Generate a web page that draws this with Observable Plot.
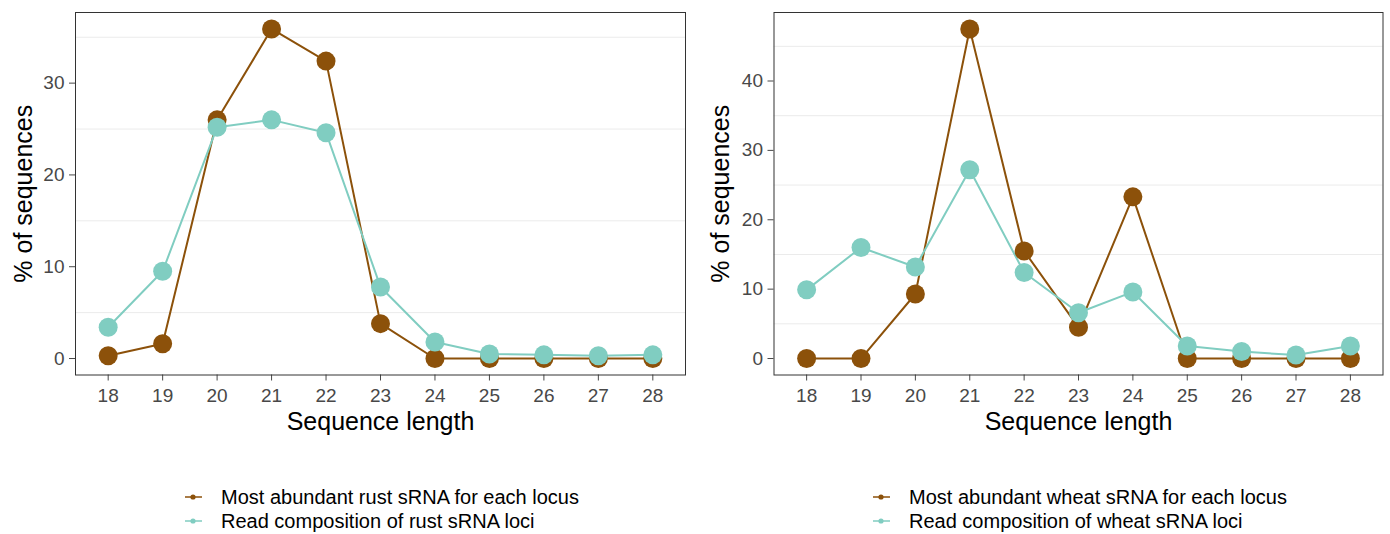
<!DOCTYPE html>
<html>
<head>
<meta charset="utf-8">
<script src="https://cdn.jsdelivr.net/npm/d3@7"></script>
<script src="https://cdn.jsdelivr.net/npm/@observablehq/plot@0.6"></script>
<style>
  html, body { margin: 0; padding: 0; background: #fff; }
  #wrap { position: relative; width: 1390px; height: 534px; font-family: "Liberation Sans", Arial, sans-serif; }
  .panel { position: absolute; top: 0; }
  .legend { position: absolute; font-size: 20px; color: #000; }
  .legend .row { display: flex; align-items: center; height: 24px; }
  .legend svg { margin-right: 18px; }
</style>
</head>
<body>
<div id="wrap"></div>
<script>
const lengths = [18, 19, 20, 21, 22, 23, 24, 25, 26, 27, 28];
const rustAbundant = [0.3, 1.6, 26.0, 35.9, 32.4, 3.8, 0.0, 0.0, 0.0, 0.0, 0.0];
const rustComposition = [3.4, 9.5, 25.2, 26.0, 24.6, 7.8, 1.8, 0.5, 0.4, 0.3, 0.4];
const wheatAbundant = [0.0, 0.0, 9.3, 47.5, 15.5, 4.5, 23.3, 0.0, 0.0, 0.0, 0.0];
const wheatComposition = [9.9, 16.0, 13.2, 27.2, 12.4, 6.6, 9.6, 1.8, 1.0, 0.5, 1.8];
const yTicksRust = [0, 10, 20, 30];
const yTicksWheat = [0, 10, 20, 30, 40];
const gridRust = [5, 15, 25, 35];
const gridWheat = [5, 15, 25, 35, 45];
const legendRust = ["Most abundant rust sRNA for each locus", "Read composition of rust sRNA loci"];
const legendWheat = ["Most abundant wheat sRNA for each locus", "Read composition of wheat sRNA loci"];
const colors = ["#8c510a", "#80cdc1"];

function makePanel(abundant, composition, yTicks, grid, opts) {
  const rows = [];
  lengths.forEach((l, i) => rows.push({len: l, value: abundant[i], series: 0}));
  lengths.forEach((l, i) => rows.push({len: l, value: composition[i], series: 1}));
  const all = abundant.concat(composition);
  const lo = Math.min(...all), hi = Math.max(...all);
  const pad = (hi - lo) * 0.05;
  const s0 = rows.filter(d => d.series === 0);
  const s1 = rows.filter(d => d.series === 1);
  return Plot.plot({
    width: 695,
    height: 450,
    marginLeft: opts.ml,
    marginRight: opts.mr,
    marginTop: 12,
    marginBottom: 75.5,
    style: {fontFamily: "Liberation Sans, Arial, sans-serif", fontSize: "19px", background: "white"},
    x: {domain: [lengths[0] - 0.6, lengths[lengths.length - 1] + 0.6]},
    y: {domain: [lo - pad, hi + pad]},
    marks: [
      Plot.ruleY(grid, {stroke: "#ebebeb", strokeWidth: 1}),
      Plot.line(s0, {x: "len", y: "value", stroke: colors[0], strokeWidth: 2}),
      Plot.line(s1, {x: "len", y: "value", stroke: colors[1], strokeWidth: 2}),
      Plot.dot(s0, {x: "len", y: "value", r: 9.5, fill: colors[0], stroke: null}),
      Plot.dot(s1, {x: "len", y: "value", r: 9.5, fill: colors[1], stroke: null}),
      Plot.axisX({ticks: lengths, tickFormat: d => String(d), tickSize: 6, tickPadding: 7, color: "#484848", label: null}),
      Plot.axisY({ticks: yTicks, tickFormat: d => String(d), tickSize: 6, tickPadding: 5, color: "#484848", label: null}),
      Plot.frame({stroke: "#333333", strokeWidth: 1}),
      Plot.text(["Sequence length"], {frameAnchor: "bottom", dy: 47, fontSize: 25, fill: "#000", lineAnchor: "middle"}),
      Plot.text(["% of sequences"], {frameAnchor: "left", dx: opts.ydx, rotate: -90, fontSize: 25, fill: "#000", textAnchor: "middle"})
    ]
  });
}

function makeLegend(labels, left) {
  const div = document.createElement("div");
  div.className = "legend";
  div.style.left = left + "px";
  div.style.top = "485px";
  labels.forEach((t, i) => {
    const row = document.createElement("div");
    row.className = "row";
    row.innerHTML = `<svg width="19" height="10"><line x1="1" x2="18" y1="5" y2="5" stroke="${colors[i]}" stroke-width="1.5"/><circle cx="9" cy="5" r="2.6" fill="${colors[i]}"/></svg><span>${t}</span>`;
    div.appendChild(row);
  });
  return div;
}

const wrap = document.getElementById("wrap");
const p1 = makePanel(rustAbundant, rustComposition, yTicksRust, gridRust, {ml: 75, mr: 10, ydx: -52});
p1.classList.add("panel"); p1.style.left = "0px";
const p2 = makePanel(wheatAbundant, wheatComposition, yTicksWheat, gridWheat, {ml: 78.5, mr: 7.5, ydx: -53});
p2.classList.add("panel"); p2.style.left = "695px";
wrap.appendChild(p1);
wrap.appendChild(p2);
wrap.appendChild(makeLegend(legendRust, 184));
wrap.appendChild(makeLegend(legendWheat, 872));
</script>
</body>
</html>
